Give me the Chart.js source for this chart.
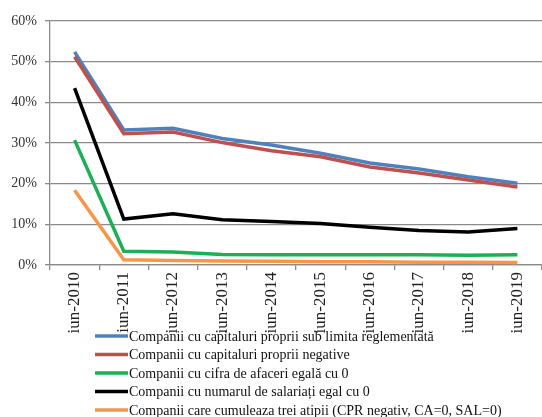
<!DOCTYPE html>
<html>
<head>
<meta charset="utf-8">
<script src="https://cdn.jsdelivr.net/npm/chart.js@4.4.1/dist/chart.umd.min.js"></script>
<style>
  html, body { margin: 0; padding: 0; background: #fff; }
  #wrap { width: 542px; height: 417px; position: relative; }
</style>
</head>
<body>
<div id="wrap"><canvas id="c" width="542" height="417"></canvas></div>
<script>
// Categories (June of each year)
const categories = ['iun-2010', 'iun-2011', 'iun-2012', 'iun-2013', 'iun-2014',
                    'iun-2015', 'iun-2016', 'iun-2017', 'iun-2018', 'iun-2019'];

// Share of companies (%) per indicator
const subLimita      = [52.4, 33.2, 33.6, 31.1, 29.5, 27.5, 25.1, 23.6, 21.7, 20.1];
const cprNegative    = [51.2, 32.3, 32.7, 30.1, 28.1, 26.6, 24.1, 22.6, 20.9, 19.2];
const cifraZero      = [30.7, 3.4, 3.2, 2.6, 2.5, 2.5, 2.5, 2.5, 2.4, 2.5];
const salariatiZero  = [43.5, 11.3, 12.6, 11.1, 10.7, 10.2, 9.3, 8.5, 8.1, 9.0];
const treiAtipii     = [18.4, 1.3, 1.1, 1.0, 0.9, 0.8, 0.8, 0.7, 0.7, 0.6];

// Y axis ticks (%)
const yTicks = [0, 10, 20, 30, 40, 50, 60];

const seriesNames = [
  'Companii cu capitaluri proprii sub limita reglementată',
  'Companii cu capitaluri proprii negative',
  'Companii cu cifra de afaceri egală cu 0',
  'Companii cu numarul de salariați egal cu 0',
  'Companii care cumuleaza trei atipii (CPR negativ, CA=0, SAL=0)'
];
const seriesData = [subLimita, cprNegative, cifraZero, salariatiZero, treiAtipii];
const seriesColors = ['#4F81BD', '#C0504D', '#1DAF55', '#000000', '#F79646'];

const serif = "'Liberation Serif', 'Times New Roman', serif";

// Legend drawn under the plot, one entry per line
const legendBelow = {
  id: 'legendBelow',
  afterDraw(chart) {
    const ctx = chart.ctx;
    ctx.save();
    ctx.font = '14px ' + serif;
    ctx.textBaseline = 'middle';
    ctx.textAlign = 'left';
    chart.data.datasets.forEach((ds, i) => {
      const y = 336 + i * 18.5;
      ctx.strokeStyle = ds.borderColor;
      ctx.lineWidth = 3.5;
      ctx.beginPath();
      ctx.moveTo(95, y);
      ctx.lineTo(128, y);
      ctx.stroke();
      ctx.fillStyle = '#111';
      ctx.fillText(ds.label, 129, y + 1);
    });
    ctx.restore();
  }
};

new Chart(document.getElementById('c'), {
  type: 'line',
  data: {
    labels: categories,
    datasets: seriesData.map((d, i) => ({
      label: seriesNames[i],
      data: d,
      borderColor: seriesColors[i],
      backgroundColor: seriesColors[i],
      borderWidth: 3.5,
      pointRadius: 0,
      tension: 0,
      fill: false,
      order: seriesData.length - i
    }))
  },
  options: {
    responsive: false,
    animation: false,
    layout: { padding: { top: 21, right: 0, bottom: 72, left: 0 } },
    plugins: {
      legend: { display: false },
      tooltip: { enabled: false }
    },
    scales: {
      x: {
        offset: true,
        grid: {
          offset: true,
          drawOnChartArea: false,
          color: '#8a8a8a',
          tickLength: 5,
          lineWidth: 1.3
        },
        border: { color: '#8a8a8a', width: 1.3 },
        ticks: {
          minRotation: 90,
          maxRotation: 90,
          padding: 2,
          color: '#222',
          font: { family: serif, size: 17 }
        },
        afterFit(scale) { scale.height = 80; }
      },
      y: {
        min: yTicks[0],
        max: yTicks[yTicks.length - 1],
        afterBuildTicks(scale) { scale.ticks = yTicks.map(v => ({ value: v })); },
        grid: { color: '#8a8a8a', lineWidth: 1.3, tickLength: 5 },
        border: { color: '#8a8a8a', width: 1.3 },
        ticks: {
          padding: 8,
          color: '#333',
          font: { family: serif, size: 14 },
          callback: v => v + '%'
        },
        afterFit(scale) { scale.width = 50; }
      }
    }
  },
  plugins: [legendBelow]
});
</script>
</body>
</html>
